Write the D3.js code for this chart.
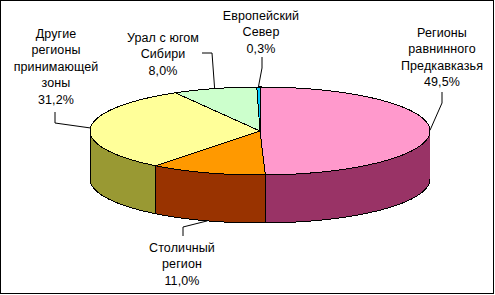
<!DOCTYPE html>
<html>
<head>
<meta charset="utf-8">
<script src="https://d3js.org/d3.v7.min.js"></script>
<style>
  html, body { margin: 0; padding: 0; background: #fff; }
  svg text { font-family: "Liberation Sans", Arial, sans-serif; font-size: 12.5px; letter-spacing: 0.1px; fill: #000; }
</style>
</head>
<body>
<div id="grafico"></div>
<script>
// datos
const nombres = [
  ["Регионы", "равнинного", "Предкавказья"],
  ["Столичный", "регион"],
  ["Другие", "регионы", "принимающей", "зоны"],
  ["Урал с югом", "Сибири"],
  ["Европейский", "Север"]
];
const valores = [49.5, 11.0, 31.2, 8.0, 0.3];
const coloresArriba = ["#ff99cc", "#ff9900", "#ffff99", "#ccffcc", "#00ccff"];
const coloresLado = ["#993366", "#993300", "#999933", "#669966", "#006699"];

// posicion de las etiquetas (centro x, primera linea y, punto de union, codo)
const etiquetas = [
  { x: 442, y: 36.5, union: [442, 92], codo: [442, 103] },
  { x: 182, y: 251.5, union: [183, 236], codo: [183, 227] },
  { x: 56, y: 37.5, union: [55, 112], codo: [55, 123] },
  { x: 163, y: 41.5, union: [202, 53], codo: [212, 53] },
  { x: 261, y: 19.5, union: [262, 57], codo: [262, 68] }
];

const ancho = 495, alto = 295;
const cx = 260, cy = 131, rx = 170, ry = 44, prof = 48;
const interlinea = 16.5;

const svg = d3.select("#grafico").append("svg")
  .attr("width", ancho)
  .attr("height", alto);

// marco
svg.append("rect")
  .attr("x", 0.5).attr("y", 0.5)
  .attr("width", 493).attr("height", 293)
  .attr("fill", "#fff").attr("stroke", "#000");

const pie = d3.pie().sort(null).value(d => d).startAngle(0).endAngle(2 * Math.PI);
const arcos = pie(valores);

function px(a) { return cx + rx * Math.sin(a); }
function py(a, dz) { return cy - ry * Math.cos(a) + (dz || 0); }

function puntos(a0, a1, dz) {
  const n = Math.max(2, Math.ceil(Math.abs(a1 - a0) / 0.01));
  const pts = [];
  for (let i = 0; i <= n; i++) {
    const a = a0 + (a1 - a0) * i / n;
    pts.push([px(a), py(a, dz)]);
  }
  return pts;
}

function caraSuperior(d) {
  const p = d3.path();
  p.moveTo(cx, cy);
  puntos(d.startAngle, d.endAngle, 0).forEach(q => p.lineTo(q[0], q[1]));
  p.closePath();
  return p.toString();
}

function caraLateral(d) {
  const s0 = Math.max(d.startAngle, Math.PI / 2);
  const s1 = Math.min(d.endAngle, 3 * Math.PI / 2);
  if (s0 >= s1) return null;
  const p = d3.path();
  const arriba = puntos(s0, s1, 0);
  const abajo = puntos(s1, s0, prof);
  p.moveTo(arriba[0][0], arriba[0][1]);
  arriba.forEach(q => p.lineTo(q[0], q[1]));
  abajo.forEach(q => p.lineTo(q[0], q[1]));
  p.closePath();
  return p.toString();
}

// lados
svg.append("g").selectAll("path")
  .data(arcos.filter(d => caraLateral(d) !== null))
  .join("path")
  .attr("d", caraLateral)
  .attr("fill", d => coloresLado[d.index])
  .attr("stroke", "#000")
  .attr("stroke-width", 1)
  .attr("shape-rendering", "crispEdges");

// tapa
svg.append("g").selectAll("path")
  .data(arcos)
  .join("path")
  .attr("d", caraSuperior)
  .attr("fill", d => coloresArriba[d.index])
  .attr("stroke", "#000")
  .attr("stroke-width", 1)
  .attr("shape-rendering", "crispEdges");

// lineas guia
const linea = d3.line();
arcos.forEach((d, i) => {
  const m = (d.startAngle + d.endAngle) / 2;
  const frente = Math.cos(m) < 0;
  const ancla = [px(m), py(m, frente ? prof : 0)];
  const e = etiquetas[i];
  svg.append("path")
    .attr("d", linea([e.union, e.codo, ancla]))
    .attr("fill", "none")
    .attr("stroke", "#000")
    .attr("stroke-width", 1);
});

// etiquetas
const fmt = v => v.toFixed(1).replace(".", ",") + "%";
arcos.forEach((d, i) => {
  const e = etiquetas[i];
  const lineas = nombres[i].concat([fmt(valores[i])]);
  const t = svg.append("text")
    .attr("text-anchor", "middle");
  lineas.forEach((s, k) => {
    t.append("tspan")
      .attr("x", e.x)
      .attr("y", e.y + k * interlinea)
      .text(s);
  });
});
</script>
</body>
</html>
